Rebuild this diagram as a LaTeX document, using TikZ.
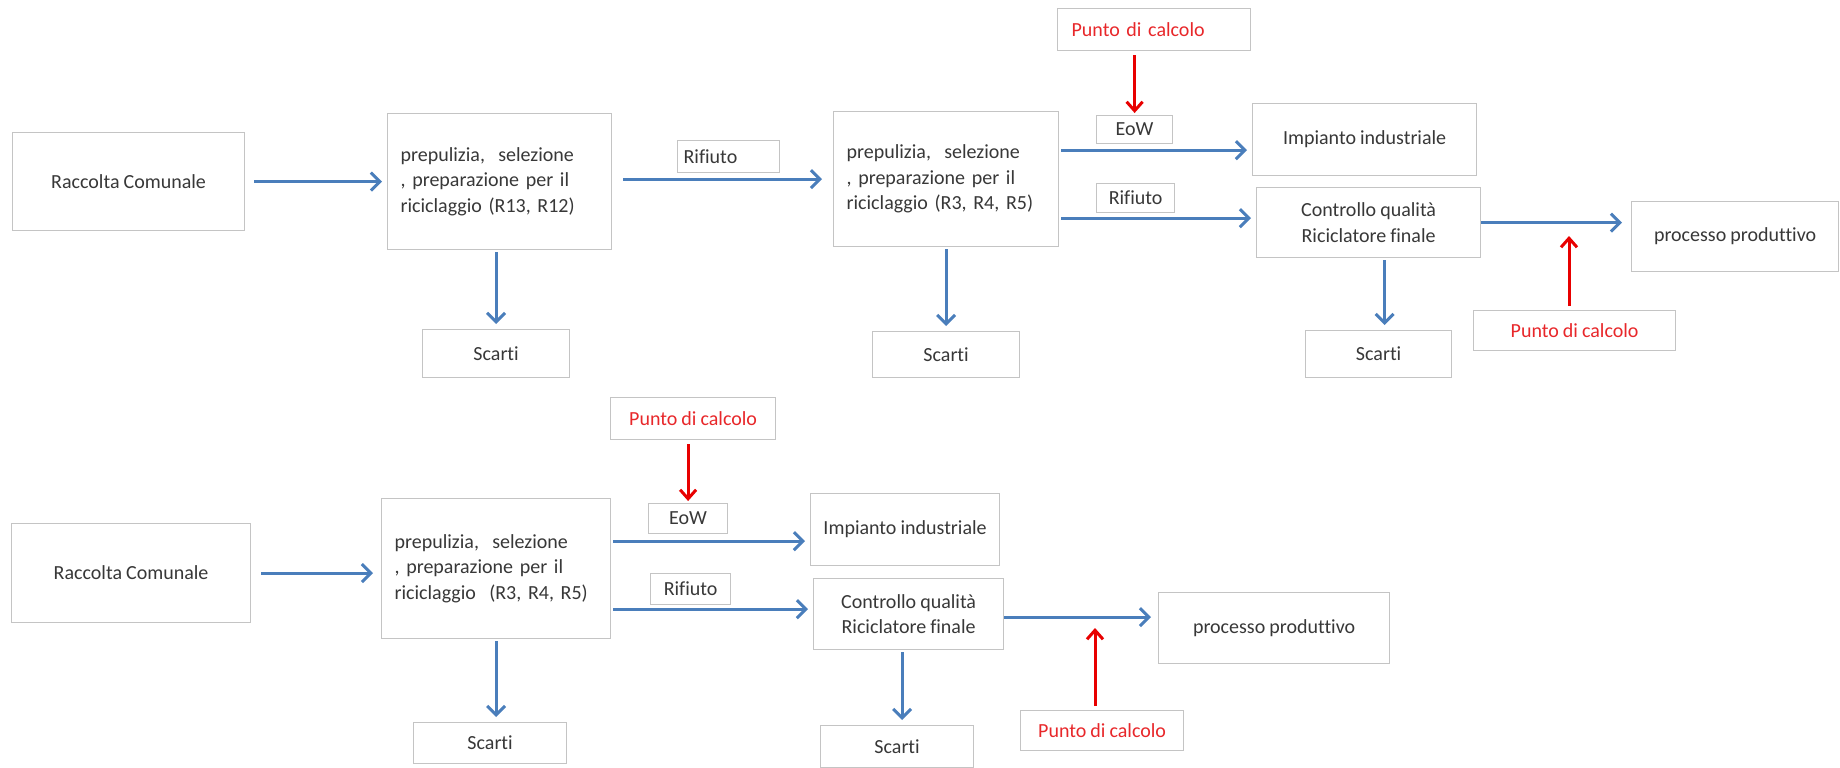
\documentclass[tikz,border=0pt]{standalone}
\usepackage{fontspec}
\setmainfont{Carlito}[Ligatures=NoCommon,WordSpace=0.9]
\usetikzlibrary{arrows.meta}
\definecolor{flowblue}{HTML}{4A7EBB}
\definecolor{boxgray}{HTML}{C4C4C4}
\definecolor{txtgray}{HTML}{383838}
\definecolor{calcred}{HTML}{E8272A}
\definecolor{arrowred}{HTML}{E80000}
\begin{document}
\begin{tikzpicture}[x=0.5pt,y=-0.5pt,anchor=north west,
  box/.style 2 args={draw=boxgray,line width=0.6pt,fill=white,text=txtgray,inner sep=0pt,
    minimum width=#1pt,minimum height=#2pt,align=center,font=\fontsize{10}{12.8}\selectfont},
  prep/.style={align=left,inner xsep=6.5pt},
  calctext/.style={text=calcred},
  flow/.style={draw=flowblue,line width=1.5pt,shorten <=1pt,shorten >=2.5pt,-{Straight Barb[length=4.5pt,width=9pt]}},
  calcarrow/.style={draw=arrowred,line width=1.5pt,shorten <=2pt,shorten >=1pt,-{Straight Barb[length=4.5pt,width=8pt]}}]
\useasboundingbox (0,0) rectangle (1840,767);
\node[box={116}{49}] (rc1) at (12,132) {Raccolta Comunale};
\node[box={112}{68},prep,text width=99pt] (pp1) at (387,113) {prepulizia,\ \ selezione\\,\ preparazione per il\\riciclaggio (R13, R12)};
\node[box={73.5}{24}] (sc1) at (422,329) {Scarti};
\node[box={51}{16},align=left,text width=45pt,inner xsep=3pt] (rf1) at (677,140) {Rifiuto};
\node[box={112.5}{67.5},prep,text width=99.5pt] (pp2) at (833,111) {prepulizia,\ \ selezione\\,\ preparazione per il\\riciclaggio (R3, R4, R5)};
\node[box={73.5}{23}] (sc2) at (872,331) {Scarti};
\node[box={96.5}{21},calctext,align=left,text width=82.5pt,inner xsep=7pt] (pc1) at (1057,8) {Punto di calcolo};
\node[box={38}{14}] (eow1) at (1096,115) {EoW};
\node[box={39}{14.5}] (rf2) at (1096,183) {Rifiuto};
\node[box={112}{36}] (ii1) at (1252,103) {Impianto industriale};
\node[box={112}{35}] (cq1) at (1256,187) {Controllo qualità\\Riciclatore finale};
\node[box={103.5}{35}] (pr1) at (1631,201) {processo produttivo};
\node[box={73}{23.5}] (sc3) at (1305,330) {Scarti};
\node[box={101}{20},calctext] (pc2) at (1473,310) {Punto di calcolo};
\coordinate (m1) at (1569,236);
\draw[flow,shorten <=4.5pt] (rc1.east) -- (pp1.west);
\draw[flow,shorten <=5.5pt,shorten >=5.5pt] (pp1.east |- pp2.west) -- (pp2.west);
\draw[flow] (sc1.north |- pp1.south) -- (sc1.north);
\draw[flow] (pp2.south) -- (pp2.south |- sc2.north);
\draw[flow] ([yshift=-3pt]pp2.east |- eow1.south) -- ([yshift=-3pt]ii1.west |- eow1.south);
\draw[flow] ([yshift=-2.5pt]pp2.east |- rf2.south) -- ([yshift=-2.5pt]cq1.west |- rf2.south);
\draw[flow,shorten <=0pt,shorten >=4.5pt] (cq1.east) -- (cq1.east -| pr1.west);
\draw[flow] ([xshift=3pt]sc3.north |- cq1.south) -- ([xshift=3pt]sc3.north);
\draw[calcarrow] (eow1.north |- pc1.south) -- (eow1.north);
\draw[calcarrow,shorten >=0pt] (pc2.north -| m1) -- (m1);
\node[box={119.5}{49.5}] (rc2) at (11,523) {Raccolta Comunale};
\node[box={114.5}{70},prep,text width=101.5pt] (pp3) at (381,498) {prepulizia,\ \ selezione\\,\ preparazione per il\\riciclaggio\ \ (R3, R4, R5)};
\node[box={76.5}{20.5}] (sc4) at (413,722) {Scarti};
\node[box={82.5}{21},calctext] (pc3) at (610,397) {Punto di calcolo};
\node[box={39.5}{15}] (eow2) at (648,503) {EoW};
\node[box={40}{15.5}] (rf3) at (650,573) {Rifiuto};
\node[box={94.5}{36}] (ii2) at (810,493) {Impianto industriale};
\node[box={95}{35.5}] (cq2) at (813,578) {Controllo qualità\\Riciclatore finale};
\node[box={115.5}{35.5}] (pr2) at (1158,592) {processo produttivo};
\node[box={76.5}{21}] (sc5) at (820,725) {Scarti};
\node[box={81.5}{20},calctext] (pc4) at (1020,710) {Punto di calcolo};
\coordinate (m2) at (1095,628);
\draw[flow,shorten <=5pt,shorten >=4pt] (rc2.east) -- (rc2.east -| pp3.west);
\draw[flow] (pp3.south) -- (pp3.south |- sc4.north);
\draw[flow] ([yshift=-3.5pt]pp3.east |- eow2.south) -- ([yshift=-3.5pt]ii2.west |- eow2.south);
\draw[flow] ([yshift=-2pt]pp3.east |- rf3.south) -- ([yshift=-2pt]cq2.west |- rf3.south);
\draw[flow,shorten <=0pt,shorten >=3.5pt] ([yshift=-1.5pt]cq2.east) -- ([yshift=-1.5pt]cq2.east -| pr2.west);
\draw[flow] ([xshift=2.5pt]sc5.north |- cq2.south) -- ([xshift=2.5pt]sc5.north);
\draw[calcarrow] (eow2.north |- pc3.south) -- (eow2.north);
\draw[calcarrow,shorten >=0pt] (pc4.north -| m2) -- (m2);
\end{tikzpicture}
\end{document}
